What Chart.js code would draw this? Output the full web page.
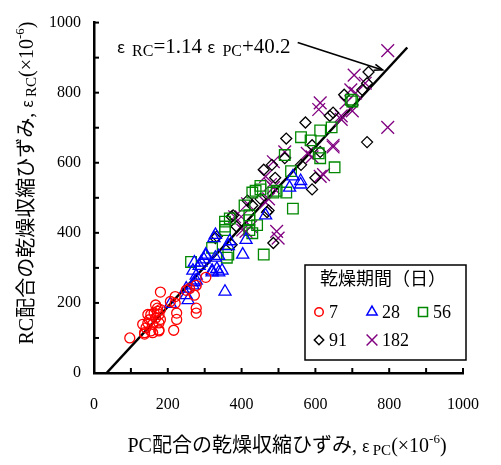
<!DOCTYPE html>
<html>
<head>
<meta charset="utf-8">
<script src="https://cdn.jsdelivr.net/npm/chart.js@4.4.0/dist/chart.umd.min.js"></script>
<style>
  body { margin: 0; background: #fff; }
  #wrap { width: 501px; height: 465px; }
</style>
</head>
<body>
<div id="wrap"><canvas id="c"></canvas></div>
<script>
// 乾燥期間ごとの [PC, RC] (×10^-6)
const d7 = [[97,100],[137,111],[137,115],[154,120],[159,115],[176,120],[176,123],[216,122],[141,129],[132,139],
  [159,139],[176,143],[146,143],[150,152],[167,157],[180,153],[146,167],[154,167],[163,171],[176,167],
  [172,176],[180,181],[167,194],[172,185],[224,171],[224,153],[277,185],[277,171],[180,231],[207,204],
  [220,218],[220,199],[250,236],[272,222],[259,241],[277,250],[303,273]];
const d28 = [[207,197],[250,241],[250,222],[255,208],[268,250],[272,259],[277,264],[277,278],[268,292],[285,306],
  [272,315],[290,315],[298,324],[303,334],[303,338],[320,292],[320,287],[333,297],[338,287],[347,292],
  [355,232],[329,329],[338,334],[325,385],[329,394],[364,362],[368,376],[403,338],[412,380],[465,450],
  [530,529],[560,538],[539,561],[560,548]];
const d56 = [[263,317],[320,357],[355,432],[355,418],[355,408],[360,329],[364,338],[368,441],[408,478],[421,436],
  [421,450],[421,408],[429,399],[442,422],[460,338],[429,515],[438,520],[451,524],[451,534],[486,515],
  [495,520],[521,515],[539,469],[534,576],[517,622],[561,673],[587,664],[609,627],[613,613],[613,692],
  [644,701],[652,587],[696,780],[700,775]];
const d91 = [[329,385],[333,390],[373,366],[377,450],[373,446],[386,418],[416,492],[429,478],[451,497],[469,459],
  [473,464],[486,371],[460,580],[482,594],[491,557],[517,613],[521,669],[561,594],[573,715],[591,524],
  [600,557],[591,650],[613,631],[639,734],[648,743],[678,794],[727,808],[740,827],[744,859],[740,659]];
const d182 = [[381,446],[399,446],[403,408],[412,404],[425,418],[416,483],[465,487],[473,497],[478,538],[486,529],
  [499,385],[495,404],[465,561],[486,603],[517,631],[578,627],[591,617],[613,561],[622,566],[648,645],
  [648,650],[609,752],[613,771],[670,734],[670,724],[683,771],[700,748],[696,808],[709,799],[735,827],
  [705,850],[796,920],[796,701]];

// 回帰直線と注記
const fitPC = [34, 849];
const fitRC = [0, 929];
const arrowPC = [552, 782];
const arrowRC = [943, 865];
const eqPos = [62, 912];

const serieNames = ['7', '28', '56', '91', '182'];
const serieColors = ['#ff0000', '#0000ff', '#008800', '#000000', '#800080'];
const serieStyles = ['circle', 'triangle', 'rect', 'rectRot', 'crossRot'];
const serieRadius = [5, 7, 7.5, 5.5, 9];
const allData = [d7, d28, d56, d91, d182];

const FONT = '"Liberation Serif", "Noto Sans CJK JP", serif';
const EPS = '"Noto Sans CJK JP", serif';

const toXY = (arr) => arr.map(p => ({ x: p[0], y: p[1] }));

const datasets = allData.map((d, i) => ({
  type: 'scatter',
  label: serieNames[i],
  data: toXY(d),
  pointStyle: serieStyles[i],
  radius: serieRadius[i],
  borderColor: serieColors[i],
  backgroundColor: 'rgba(0,0,0,0)',
  borderWidth: 1.3,
}));

datasets.push({
  type: 'line',
  label: 'fit',
  data: fitPC.map((v, i) => ({ x: v, y: fitRC[i] })),
  borderColor: '#000',
  borderWidth: 2.5,
  pointRadius: 0,
  fill: false,
});

// 添字つき文字列
function richWidth(ctx, parts) {
  let w = 0;
  parts.forEach(p => {
    ctx.font = p.size + 'px ' + (p.f || FONT);
    w += ctx.measureText(p.t).width;
  });
  return w;
}
function drawRich(ctx, parts, x, y, align) {
  let cx = x;
  if (align === 'center') cx = x - richWidth(ctx, parts) / 2;
  ctx.textAlign = 'left';
  parts.forEach(p => {
    ctx.font = p.size + 'px ' + (p.f || FONT);
    ctx.fillText(p.t, cx, y + (p.dy || 0));
    cx += ctx.measureText(p.t).width;
  });
}

function marker(ctx, style, x, y, r) {
  ctx.beginPath();
  if (style === 'circle') {
    ctx.arc(x, y, r, 0, Math.PI * 2);
  } else if (style === 'triangle') {
    ctx.moveTo(x, y - r);
    ctx.lineTo(x + r * 0.866, y + r * 0.5);
    ctx.lineTo(x - r * 0.866, y + r * 0.5);
    ctx.closePath();
  } else if (style === 'rect') {
    const s = r * Math.SQRT1_2;
    ctx.rect(x - s, y - s, 2 * s, 2 * s);
  } else if (style === 'rectRot') {
    ctx.moveTo(x, y - r); ctx.lineTo(x + r, y); ctx.lineTo(x, y + r); ctx.lineTo(x - r, y);
    ctx.closePath();
  } else {
    const s = r * Math.SQRT1_2;
    ctx.moveTo(x - s, y - s); ctx.lineTo(x + s, y + s);
    ctx.moveTo(x + s, y - s); ctx.lineTo(x - s, y + s);
  }
  ctx.stroke();
}

const extras = {
  id: 'extras',
  afterDraw(chart) {
    const { ctx, chartArea: a } = chart;
    const xs = chart.scales.x, ys = chart.scales.y;
    ctx.save();
    ctx.fillStyle = '#000';
    ctx.strokeStyle = '#000';

    // 内向きの目盛
    ctx.lineWidth = 2;
    xs.ticks.forEach(t => {
      if (t.value === 0) return;
      const px = xs.getPixelForValue(t.value);
      ctx.beginPath(); ctx.moveTo(px, a.bottom); ctx.lineTo(px, a.bottom - 5); ctx.stroke();
    });
    ys.ticks.forEach(t => {
      if (t.value === 0) return;
      const py = ys.getPixelForValue(t.value);
      ctx.beginPath(); ctx.moveTo(a.left, py); ctx.lineTo(a.left + 5, py); ctx.stroke();
    });

    // 軸タイトル
    ctx.textBaseline = 'alphabetic';
    drawRich(ctx, [
      { t: 'PC配合の乾燥収縮ひずみ, ', size: 20 },
      { t: 'ε ', size: 15, f: EPS },
      { t: 'PC', size: 15, dy: 3 },
      { t: '(×10', size: 20 },
      { t: '-6', size: 13, dy: -9 },
      { t: ')', size: 20 },
    ], 287, 452, 'center');

    ctx.save();
    ctx.translate(33, 183);
    ctx.rotate(-Math.PI / 2);
    drawRich(ctx, [
      { t: 'RC配合の乾燥収縮ひずみ, ', size: 20 },
      { t: 'ε ', size: 15, f: EPS },
      { t: 'RC', size: 15, dy: 3 },
      { t: '(×10', size: 20 },
      { t: '-6', size: 13, dy: -9 },
      { t: ')', size: 20 },
    ], 0, 0, 'center');
    ctx.restore();

    // 回帰式と引出線
    drawRich(ctx, [
      { t: 'ε  ', size: 16, f: EPS },
      { t: 'RC', size: 16, dy: 3 },
      { t: '=1.14 ', size: 21 },
      { t: 'ε  ', size: 16, f: EPS },
      { t: 'PC', size: 16, dy: 3 },
      { t: '+40.2', size: 21 },
    ], xs.getPixelForValue(eqPos[0]), ys.getPixelForValue(eqPos[1]), 'left');

    const x1 = xs.getPixelForValue(arrowPC[0]), y1 = ys.getPixelForValue(arrowRC[0]);
    const x2 = xs.getPixelForValue(arrowPC[1]), y2 = ys.getPixelForValue(arrowRC[1]);
    const ang = Math.atan2(y2 - y1, x2 - x1);
    ctx.lineWidth = 1.6;
    ctx.beginPath(); ctx.moveTo(x1, y1); ctx.lineTo(x2, y2); ctx.stroke();
    ctx.beginPath();
    ctx.moveTo(x2 - 9 * Math.cos(ang - 0.35), y2 - 9 * Math.sin(ang - 0.35));
    ctx.lineTo(x2, y2);
    ctx.lineTo(x2 - 9 * Math.cos(ang + 0.35), y2 - 9 * Math.sin(ang + 0.35));
    ctx.stroke();

    // 凡例
    ctx.fillStyle = '#fff';
    ctx.fillRect(305, 265, 161, 95);
    ctx.lineWidth = 1.5;
    ctx.strokeRect(305, 265, 161, 95);
    ctx.fillStyle = '#000';
    ctx.textBaseline = 'middle';
    ctx.font = '18px ' + FONT;
    ctx.fillText('乾燥期間（日）', 320, 280);
    const pos = [[319, 312], [372, 312], [423, 312], [319, 340], [372, 340]];
    serieNames.forEach((n, i) => {
      ctx.strokeStyle = serieColors[i];
      ctx.lineWidth = 1.5;
      marker(ctx, serieStyles[i], pos[i][0], pos[i][1], serieRadius[i] * 0.85);
      ctx.font = '18px ' + FONT;
      ctx.fillText(n, pos[i][0] + 10, pos[i][1] + 1);
    });
    ctx.restore();
  }
};

new Chart(document.getElementById('c'), {
  data: { datasets },
  options: {
    responsive: true,
    maintainAspectRatio: false,
    animation: false,
    layout: { padding: { top: 14, right: 25, left: 0, bottom: 0 } },
    plugins: { legend: { display: false }, tooltip: { enabled: false } },
    scales: {
      x: {
        type: 'linear', min: 0, max: 1000,
        grid: { display: false, drawTicks: false },
        border: { display: true, color: '#000', width: 2.5 },
        ticks: {
          stepSize: 100, padding: 22, color: '#000', maxRotation: 0, autoSkip: false,
          font: { family: FONT, size: 16 },
          callback: v => (v % 200 === 0 ? v : ''),
        },
        afterFit: s => { s.height = 92; },
      },
      y: {
        type: 'linear', min: 0, max: 1000,
        grid: { display: false, drawTicks: false },
        border: { display: true, color: '#000', width: 2.5 },
        ticks: {
          stepSize: 100, padding: 13, color: '#000', autoSkip: false,
          font: { family: FONT, size: 16 },
          callback: v => (v % 200 === 0 ? v : ''),
        },
        afterFit: s => { s.width = 94; },
      },
    },
  },
  plugins: [extras],
});
</script>
</body>
</html>
